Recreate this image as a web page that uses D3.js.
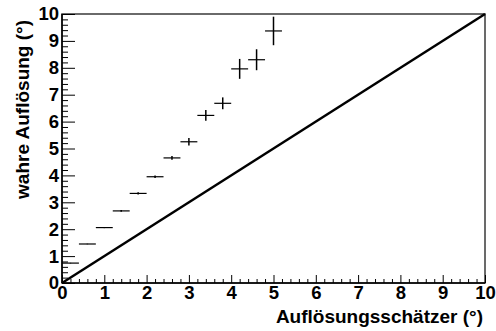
<!DOCTYPE html>
<html>
<head>
<meta charset="utf-8">
<script src="https://cdn.jsdelivr.net/npm/d3@7/dist/d3.min.js"></script>
<style>
  html, body { margin: 0; padding: 0; background: #fff; }
  svg { display: block; }
  text { font-family: "Liberation Sans", Arial, Helvetica, sans-serif; font-weight: bold; fill: #000; }
</style>
</head>
<body>
<svg id="chart" width="496" height="331"></svg>
<script>
// Estimator bins (centre and half-width) and the true resolution per bin
const binCenters = [0.2, 0.6, 1.0, 1.4, 1.8, 2.2, 2.6, 3.0, 3.4, 3.8, 4.2, 4.6, 5.0];
const binHalfWidth = [0.2, 0.2, 0.2, 0.2, 0.2, 0.2, 0.2, 0.2, 0.2, 0.2, 0.2, 0.2, 0.2];
const trueResolution = [0.74, 1.45, 2.06, 2.68, 3.33, 3.95, 4.65, 5.25, 6.23, 6.68, 7.96, 8.30, 9.37];
const trueResolutionErr = [0.01, 0.01, 0.02, 0.03, 0.04, 0.05, 0.07, 0.14, 0.20, 0.22, 0.37, 0.39, 0.53];

// Reference diagonal y = x
const diagonal = [[0, 0], [10, 10]];

const xTicks = [0, 1, 2, 3, 4, 5, 6, 7, 8, 9, 10];
const yTicks = [0, 1, 2, 3, 4, 5, 6, 7, 8, 9, 10];
const xTitle = "Auflösungsschätzer (°)";
const yTitle = "wahre Auflösung (°)";

const svg = d3.select("#chart");
const frame = { left: 62, right: 485, top: 14, bottom: 283 };

const x = d3.scaleLinear().domain([0, 10]).range([frame.left, frame.right]);
const y = d3.scaleLinear().domain([0, 10]).range([frame.bottom, frame.top]);

// Minor ticks: five subdivisions per unit
const minor = d3.range(0, 10.0001, 0.2).map(v => +v.toFixed(1)).filter(v => Math.abs(v - Math.round(v)) > 1e-6);

// Frame
svg.append("rect")
  .attr("x", frame.left).attr("y", frame.top)
  .attr("width", frame.right - frame.left).attr("height", frame.bottom - frame.top)
  .attr("fill", "none").attr("stroke", "#3a3a3a").attr("stroke-width", 1.5);

// X axis (ticks point into the plot)
const gx = svg.append("g").attr("transform", `translate(0,${frame.bottom})`);
gx.call(d3.axisBottom(x).tickValues(minor).tickSize(-4).tickFormat(""))
  .call(g => g.select(".domain").remove());
gx.append("g").call(d3.axisBottom(x).tickValues(xTicks).tickSize(-8).tickFormat(d3.format("d")).tickPadding(3))
  .call(g => g.select(".domain").remove())
  .call(g => g.selectAll("text").style("font-size", "18.5px").attr("font-family", null).attr("fill", "#000"));
gx.selectAll("line").attr("stroke", "#000").attr("stroke-width", 1);
svg.append("line").attr("x1", frame.left).attr("x2", frame.right)
  .attr("y1", frame.bottom).attr("y2", frame.bottom).attr("stroke", "#000").attr("stroke-width", 1.5);

// Y axis
const gy = svg.append("g").attr("transform", `translate(${frame.left},0)`);
gy.call(d3.axisLeft(y).tickValues(minor).tickSize(-6).tickFormat(""))
  .call(g => g.select(".domain").remove());
gy.append("g").call(d3.axisLeft(y).tickValues(yTicks).tickSize(-13).tickFormat(d3.format("d")).tickPadding(3))
  .call(g => g.select(".domain").remove())
  .call(g => g.selectAll("text").style("font-size", "18.5px").attr("font-family", null).attr("fill", "#000"));
gy.selectAll("line").attr("stroke", "#000").attr("stroke-width", 1);
svg.append("line").attr("x1", frame.left).attr("x2", frame.left)
  .attr("y1", frame.top).attr("y2", frame.bottom).attr("stroke", "#000").attr("stroke-width", 1.5);

// Diagonal
svg.append("path")
  .datum(diagonal)
  .attr("d", d3.line().x(d => x(d[0])).y(d => y(d[1])))
  .attr("fill", "none").attr("stroke", "#000").attr("stroke-width", 2.5);

// Error-bar crosses
const pts = binCenters.map((c, i) => ({ c, hw: binHalfWidth[i], v: trueResolution[i], e: trueResolutionErr[i] }));
const g = svg.append("g");
g.selectAll("line.h").data(pts).join("line").attr("class", "h")
  .attr("x1", d => x(d.c - d.hw)).attr("x2", d => x(d.c + d.hw))
  .attr("y1", d => y(d.v)).attr("y2", d => y(d.v))
  .attr("stroke", "#000").attr("stroke-width", 1.2);
g.selectAll("line.v").data(pts).join("line").attr("class", "v")
  .attr("x1", d => x(d.c)).attr("x2", d => x(d.c))
  .attr("y1", d => y(d.v - d.e)).attr("y2", d => y(d.v + d.e))
  .attr("stroke", "#000").attr("stroke-width", 1.5);

// Axis titles
svg.append("text")
  .attr("x", 483).attr("y", 323)
  .attr("text-anchor", "end").style("font-size", "19px")
  .text(xTitle);
svg.append("text")
  .attr("transform", `translate(29,20) rotate(-90)`)
  .attr("text-anchor", "end").style("font-size", "19px")
  .text(yTitle);
</script>
</body>
</html>
